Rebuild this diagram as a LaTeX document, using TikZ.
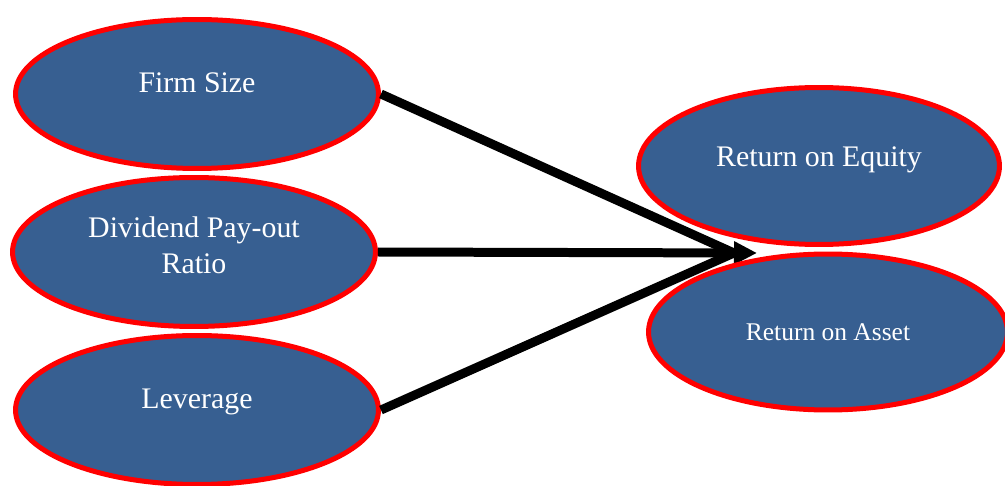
\documentclass[tikz,border=0pt]{standalone}
\usepackage{fontspec}
\setmainfont{Liberation Serif}
\usetikzlibrary{shapes.geometric, arrows.meta}

\definecolor{ovalblue}{RGB}{55,95,145}
\tikzset{
  varoval/.style={ellipse, draw=red, fill=ovalblue, line width=0.1cm,
    inner sep=0pt, minimum width=7.26cm, minimum height=2.98cm},
  vartext/.style={text=white, font=\fontsize{17}{20.5}\selectfont, align=center},
  link/.style={line width=0.18cm, black}
}

\begin{document}
\begin{tikzpicture}[x=0.02cm, y=-0.02cm]
    \useasboundingbox (0,0) rectangle (1005,486);

    \node[varoval] (firm) at (197,94) {};
    \node[varoval] (divid) at (194,252) {};
    \node[varoval] (lever) at (197,410) {};

    \node[vartext] at ([yshift=0.22cm]firm.center) {Firm Size};
    \node[vartext] at ([yshift=0.14cm]divid.center) {Dividend Pay-out\\Ratio};
    \node[vartext] at ([yshift=0.16cm]lever.center) {Leverage};

    \coordinate (tip) at (757,253);
    \coordinate (meet) at (734,253);

    \draw[link] (firm.east) -- (meet);
    \draw[link] (lever.east) -- (meet);
    \draw[link, -{Triangle[length=0.46cm, width=0.44cm]}] (divid.east) -- (tip);

    \node[varoval, minimum width=7.22cm, minimum height=3.14cm] (roe) at (819,166) {};
    \node[varoval, minimum width=7.18cm, minimum height=3.12cm] (roa) at (828,332) {};

    \node[vartext] at ([yshift=0.12cm]roe.center) {Return on Equity};
    \node[vartext, font=\fontsize{14.5}{17}\selectfont] at (roa.center) {Return on Asset};
\end{tikzpicture}
\end{document}
